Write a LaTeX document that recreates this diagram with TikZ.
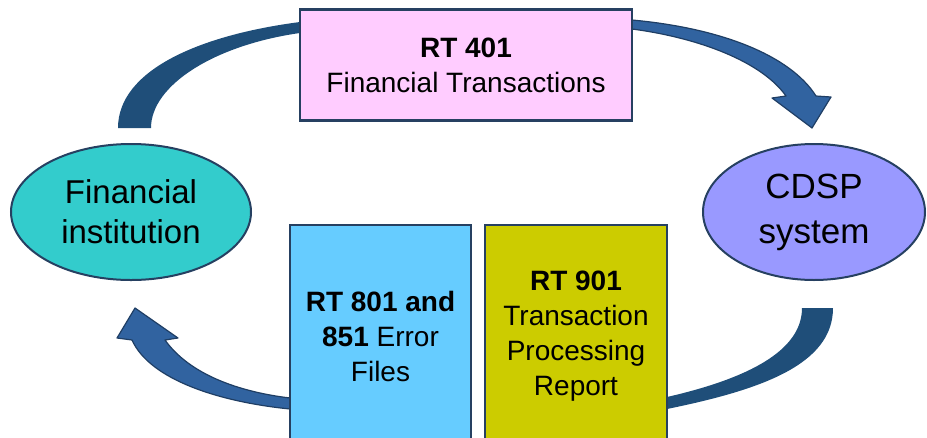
\documentclass[tikz,border=0pt]{standalone}
\usepackage{fontspec}
\setmainfont{Liberation Sans}
\usepackage{tikz}
\usetikzlibrary{positioning,shapes.geometric}
\definecolor{boxLine}{RGB}{38,64,97}
\definecolor{pinkFill}{RGB}{255,204,255}
\definecolor{skyFill}{RGB}{102,204,255}
\definecolor{oliveFill}{RGB}{204,204,0}
\definecolor{tealFill}{RGB}{51,204,204}
\definecolor{lavFill}{RGB}{153,153,255}
\definecolor{bandInk}{RGB}{31,78,121}
\definecolor{headInk}{RGB}{49,99,160}
\definecolor{headLine}{RGB}{31,62,100}
\tikzset{
  rtbox/.style={draw=boxLine, line width=2.5pt, align=center, inner sep=0pt, font=\fontsize{28}{35}\selectfont},
  pinkbox/.style={rtbox, fill=pinkFill, minimum width=332pt, minimum height=111pt},
  skybox/.style={rtbox, fill=skyFill, minimum width=181pt, minimum height=222pt},
  olivebox/.style={rtbox, fill=oliveFill, minimum width=182pt, minimum height=222pt},
  party/.style={ellipse, draw=boxLine, line width=2pt, align=center, inner sep=0pt, font=\fontsize{33}{40}\selectfont},
  band/.style={fill=bandInk},
  headband/.style={fill=headInk, draw=headLine, line width=1.2pt, line join=round}
}
\begin{document}
\begin{tikzpicture}[x=1pt,y=-1pt]
  \clip (0,0) rectangle (927,437);
  \useasboundingbox (0,0) rectangle (927,437);
  % curved arrows
  \fill[band] (118,128) .. controls (118,70) and (200,35) .. (300,22)
    -- (300,33) .. controls (215,45) and (151,85) .. (151,128) -- cycle;
  \filldraw[headband] (632,20) .. controls (720,28) and (790,55) .. (816,96)
    -- (831,97) -- (812,128) -- (772,98) -- (786,96)
    .. controls (762,62) and (700,38) .. (632,29) -- cycle;
  \fill[band] (802,308) -- (833,308) .. controls (833,365) and (760,390) .. (667,409)
    -- (667,397) .. controls (750,378) and (802,350) .. (802,308) -- cycle;
  \filldraw[headband] (290,398) .. controls (240,392) and (190,375) .. (165,340)
    -- (178,338) -- (135,308) -- (117,338) -- (132,340)
    .. controls (150,380) and (220,402) .. (290,409) -- cycle;
  % parties
  \node[party, fill=tealFill, minimum width=240pt, minimum height=136pt] (fi) at (131,212) {Financial\\institution};
  \node[party, fill=lavFill, minimum width=222pt, minimum height=136pt, font=\fontsize{35}{45}\selectfont] (cdsp) at (814,212) {CDSP\\system};
  % record types
  \node[pinkbox] (rt401) at (466,65) {\textbf{RT 401}\\Financial Transactions};
  \node[skybox] (rt801) at (380.5,336) {\textbf{RT 801 and}\\\textbf{851} Error\\Files};
  \node[olivebox] (rt901) at (576,336) {\textbf{RT 901}\\Transaction\\Processing\\Report};
\end{tikzpicture}
\end{document}
